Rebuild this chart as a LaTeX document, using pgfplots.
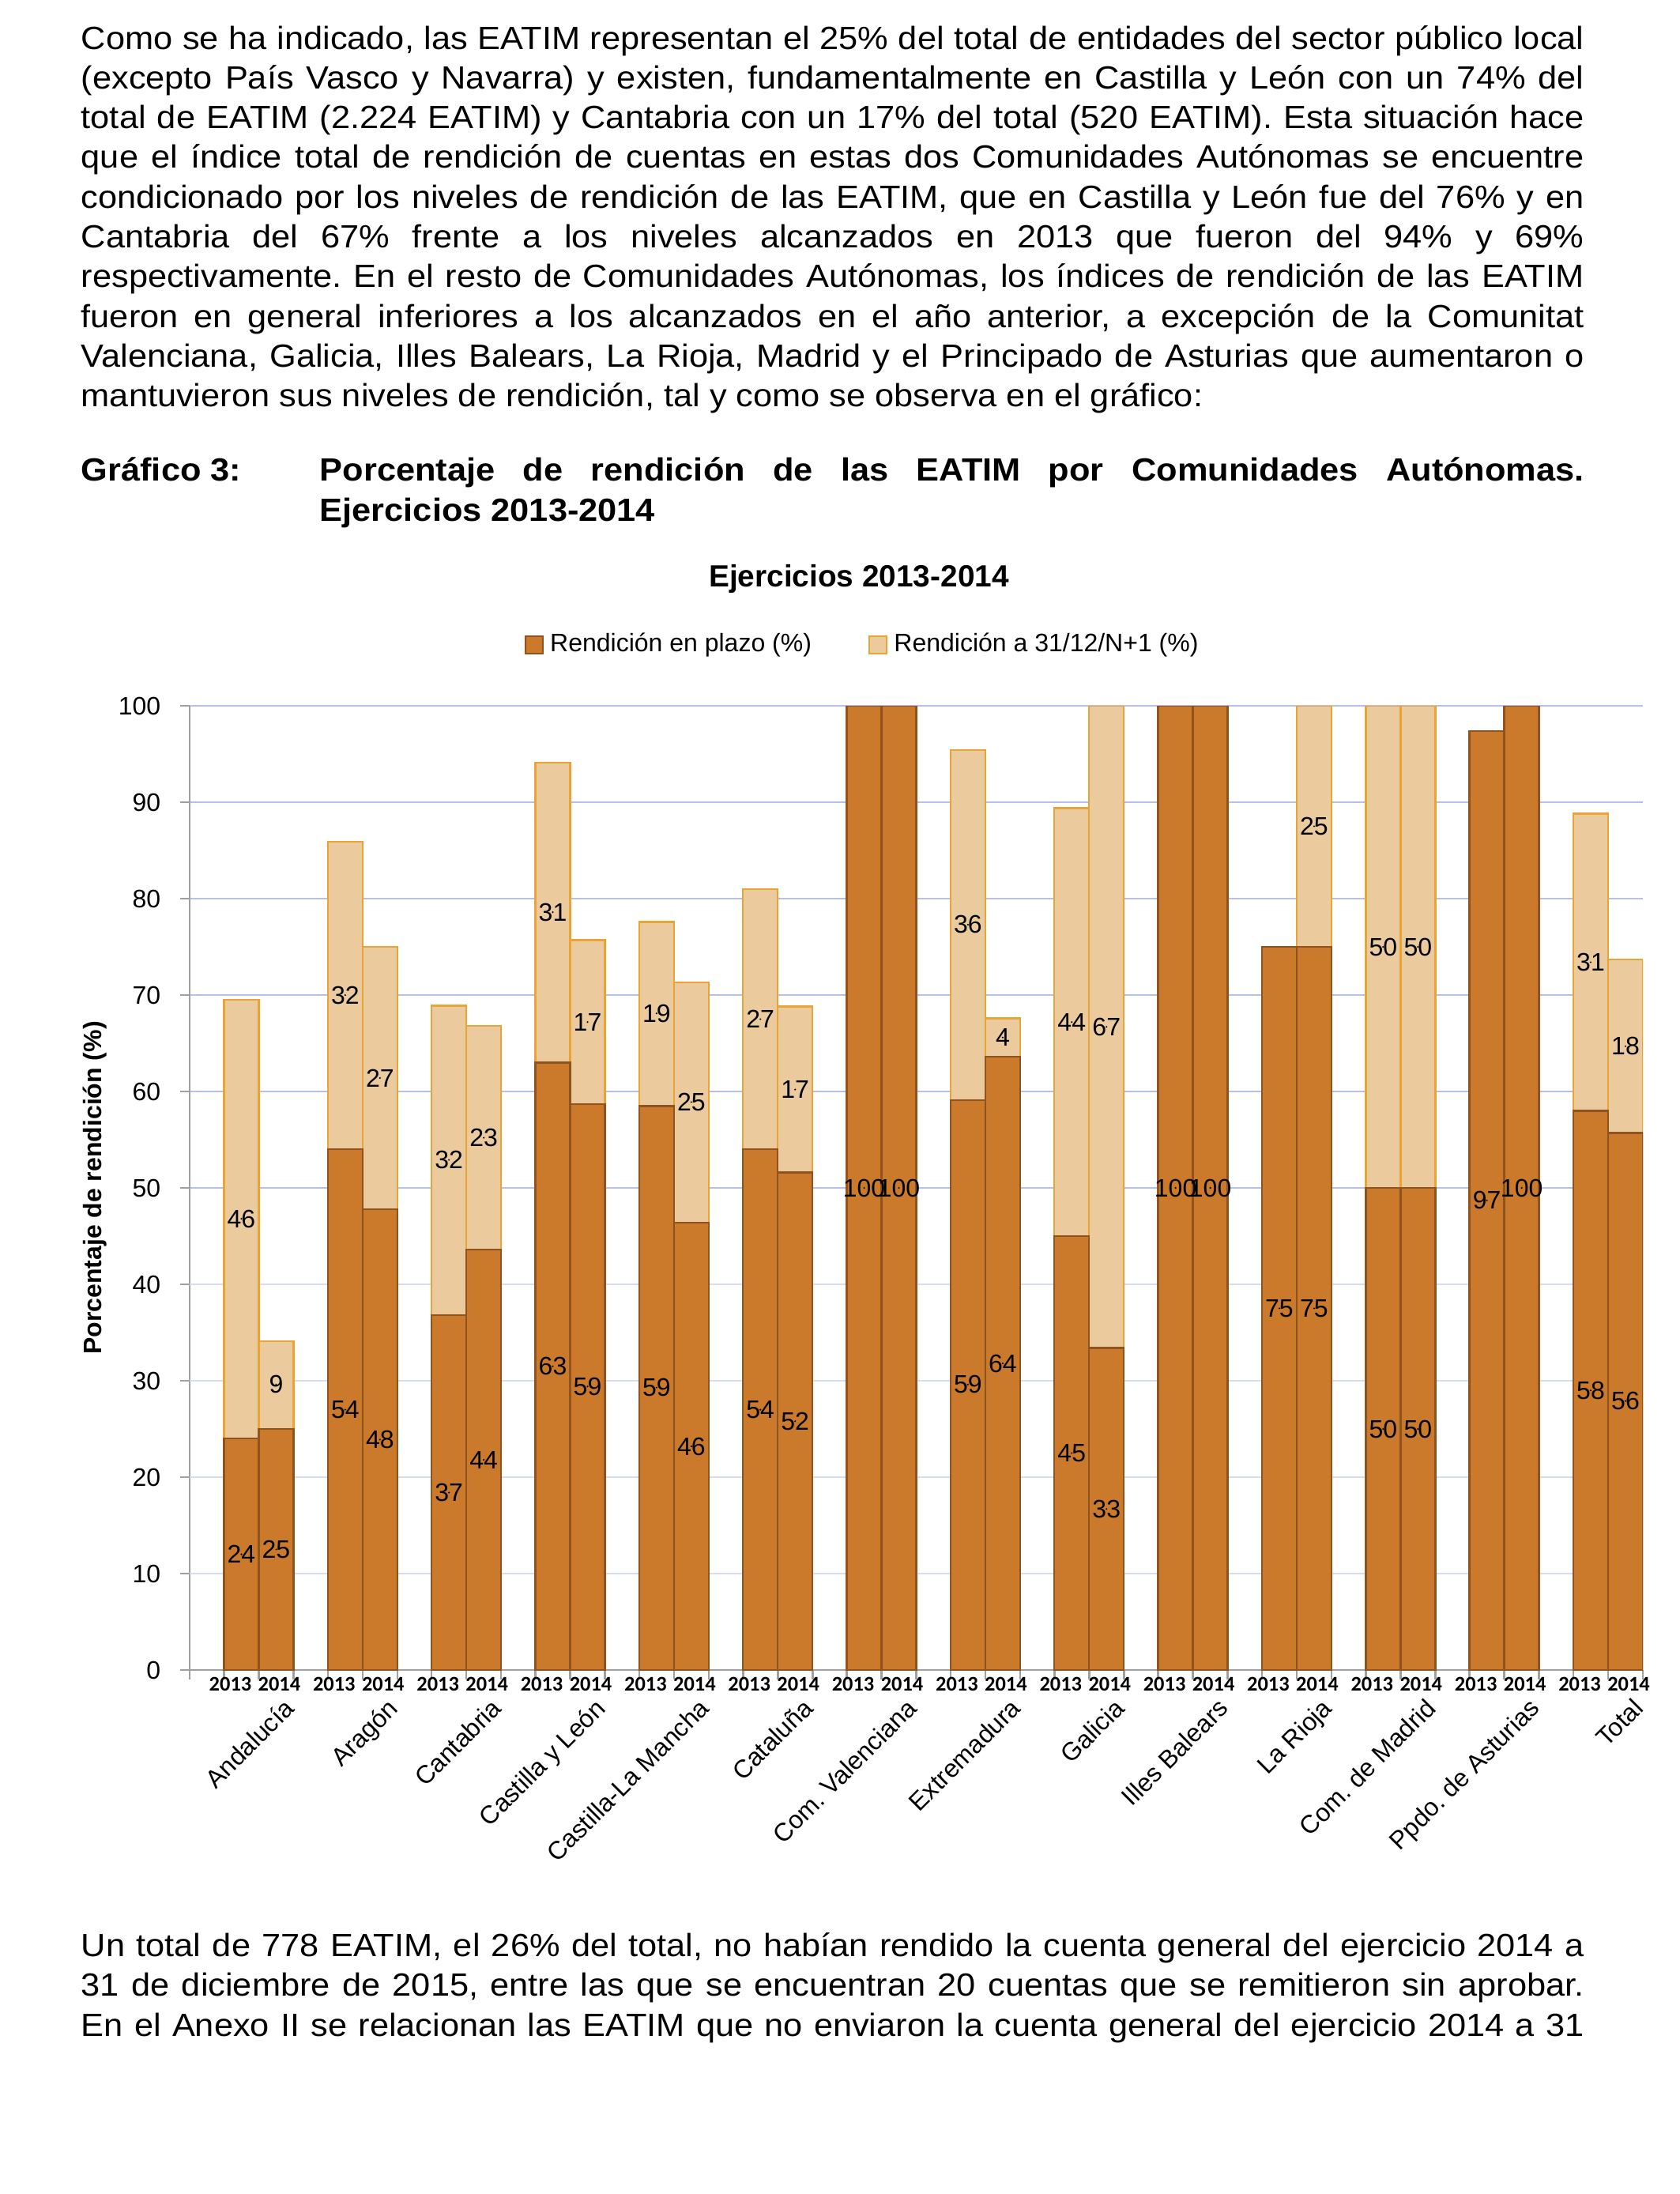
\documentclass[border=0pt]{standalone}
\usepackage{fontspec}
\setmainfont{Liberation Sans}
\newfontfamily\bodyfont[FakeStretch=1.068]{Liberation Sans}
\newfontfamily\yearfont{Carlito}
\usepackage{pgfplots}
\usepackage{pgfplotstable}
\pgfplotsset{compat=1.18}
\frenchspacing

\definecolor{cDark}{HTML}{CB7A2C}
\definecolor{cDarkEdge}{HTML}{8E531E}
\definecolor{cLight}{HTML}{EBCA9E}
\definecolor{cLightEdge}{HTML}{E8A435}
\definecolor{cGrid}{HTML}{B7C0E8}
\definecolor{cGridLight}{HTML}{D6DBF1}
\definecolor{cAxis}{HTML}{A0A0A0}

\newcommand{\bodysize}{\fontsize{10.15}{12}\selectfont}
\newcommand{\chartsize}{\fontsize{8}{9.6}\selectfont}
% justified line / last line of a paragraph
\newcommand{\jline}[3][25.5]{\node[anchor=base west, inner sep=0pt] at (#1pt,-#2pt) {\bodyfont\bodysize\makebox[475.5pt][s]{#3}};}
\newcommand{\pline}[3][25.5]{\node[anchor=base west, inner sep=0pt] at (#1pt,-#2pt) {\bodyfont\bodysize #3};}

% x = bar centre, b = rendicion en plazo, t = total a 31/12/N+1
\pgfplotstableread{
x b t
-0.1675 24.0 69.5
0.1675 25.0 34.1
0.8325 54.0 85.9
1.1675 47.8 75.0
1.8325 36.8 68.9
2.1675 43.6 66.8
2.8325 63.0 94.1
3.1675 58.7 75.7
3.8325 58.5 77.6
4.1675 46.4 71.3
4.8325 54.0 81.0
5.1675 51.6 68.8
5.8325 100 100
6.1675 100 100
6.8325 59.1 95.4
7.1675 63.6 67.6
7.8325 45.0 89.4
8.1675 33.4 100
8.8325 100 100
9.1675 100 100
9.8325 75.0 75.0
10.1675 75.0 100
10.8325 50.0 100
11.1675 50.0 100
11.8325 97.4 97.4
12.1675 100 100
12.8325 58.0 88.8
13.1675 55.7 73.7
}\bars

\pgfplotstableread{
x y label
-0.1675 12.0 24
-0.1675 46.8 46
0.1675 12.5 25
0.1675 29.6 9
0.8325 27.0 54
0.8325 70.0 32
1.1675 23.9 48
1.1675 61.4 27
1.8325 18.4 37
1.8325 52.9 32
2.1675 21.8 44
2.1675 55.2 23
2.8325 31.5 63
2.8325 78.6 31
3.1675 29.4 59
3.1675 67.2 17
3.8325 29.3 59
3.8325 68.1 19
4.1675 23.2 46
4.1675 58.9 25
4.8325 27.0 54
4.8325 67.5 27
5.1675 25.8 52
5.1675 60.2 17
5.8325 50 100
6.1675 50 100
6.8325 29.6 59
6.8325 77.3 36
7.1675 31.8 64
7.1675 65.6 4
7.8325 22.5 45
7.8325 67.2 44
8.1675 16.7 33
8.1675 66.7 67
8.8325 50 100
9.1675 50 100
9.8325 37.5 75
10.1675 37.5 75
10.1675 87.5 25
10.8325 25 50
10.8325 75 50
11.1675 25 50
11.1675 75 50
11.8325 48.7 97
12.1675 50 100
12.8325 29.0 58
12.8325 73.4 31
13.1675 27.9 56
13.1675 64.7 18
}\labels

\pgfplotsset{
  chartframe/.style={
    at={(60pt,-528.25pt)}, anchor=south west,
    width=459.75pt, height=305pt, scale only axis,
    xmin=-0.666, xmax=13.335, ymin=0, ymax=100,
  },
}

\begin{document}
\begin{tikzpicture}
\path[fill=white] (0,0) rectangle (531.5pt,-694pt);

% texto
\jline{15.5}{Como se ha indicado, las EATIM representan el 25\% del total de entidades del sector público local}
\jline{28.075}{(excepto País Vasco y Navarra) y existen, fundamentalmente en Castilla y León con un 74\% del}
\jline{40.65}{total de EATIM (2.224 EATIM) y Cantabria con un 17\% del total (520 EATIM). Esta situación hace}
\jline{53.225}{que el índice total de rendición de cuentas en estas dos Comunidades Autónomas se encuentre}
\jline{65.8}{condicionado por los niveles de rendición de las EATIM, que en Castilla y León fue del 76\% y en}
\jline{78.375}{Cantabria del 67\% frente a los niveles alcanzados en 2013 que fueron del 94\% y 69\%}
\jline{90.95}{respectivamente. En el resto de Comunidades Autónomas, los índices de rendición de las EATIM}
\jline{103.525}{fueron en general inferiores a los alcanzados en el año anterior, a excepción de la Comunitat}
\jline{116.1}{Valenciana, Galicia, Illes Balears, La Rioja, Madrid y el Principado de Asturias que aumentaron o}
\pline{128.675}{mantuvieron sus niveles de rendición, tal y como se observa en el gráfico:}

\pline{152}{\bfseries Gráfico 3:}
\node[anchor=base west, inner sep=0pt] at (101pt,-152pt) {\bodyfont\bodysize\bfseries\makebox[400pt][s]{Porcentaje de rendición de las EATIM por Comunidades Autónomas.}};
\pline[101]{164.75}{\bfseries Ejercicios 2013-2014}

\jline{618.75}{Un total de 778 EATIM, el 26\% del total, no habían rendido la cuenta general del ejercicio 2014 a}
\jline{631.4}{31 de diciembre de 2015, entre las que se encuentran 20 cuentas que se remitieron sin aprobar.}
\jline{644}{En el Anexo II se relacionan las EATIM que no enviaron la cuenta general del ejercicio 2014 a 31}

% titulo del grafico
\node[anchor=base, inner sep=0pt, font=\bfseries\fontsize{9.7}{11}\selectfont] at (271.75pt,-185.5pt) {Ejercicios 2013-2014};

\begin{axis}[
    chartframe,
    ybar,
    axis x line*=bottom, axis y line*=left,
    axis line style={-, cAxis, line width=0.65pt},
    tick style={cAxis, line width=0.65pt},
    major tick length=3pt,
    tick align=outside,
    xtick={-0.666,-0.335,0,0.335,0.665,1,1.335,1.665,2,2.335,2.665,3,3.335,3.665,4,4.335,4.665,5,5.335,5.665,6,6.335,6.665,7,7.335,7.665,8,8.335,8.665,9,9.335,9.665,10,10.335,10.665,11,11.335,11.665,12,12.335,12.665,13,13.335},
    xticklabels={},
    extra x ticks={0,1,2,3,4,5,6,7,8,9,10,11,12,13},
    extra x tick labels={Andalucía,Aragón,Cantabria,Castilla y León,Castilla-La Mancha,Cataluña,Com. Valenciana,Extremadura,Galicia,Illes Balears,La Rioja,Com. de Madrid,Ppdo. de Asturias,Total},
    extra x tick style={major tick length=0pt,
      tick label style={font=\chartsize, inner sep=0pt, xshift=7.5pt, yshift=-8.25pt, rotate=45, anchor=north east}},
    ytick={0,50,60,70,80,90,100},
    extra y ticks={10,20,30,40},
    extra y tick style={grid=major, major grid style={cGridLight, line width=0.65pt}},
    /pgf/number format/assume math mode=true,
    yticklabel style={font=\chartsize, inner sep=0pt, anchor=east, xshift=-6pt},
    ymajorgrids,
    major grid style={cGrid, line width=0.65pt},
    ylabel={Porcentaje de rendición (\%)},
    ylabel style={font=\bfseries\chartsize, at={(axis description cs:-0.0653,0.5)}, anchor=center},
    legend columns=2,
    legend style={draw=none, fill=none, font=\chartsize,
      at={(axis description cs:0.4645,1.0631)}, anchor=center,
      /tikz/every even column/.append style={column sep=16pt}},
  ]
  \addplot[bar width=0.335, bar shift=0pt, fill=cLight, draw=cLightEdge, line width=0.6pt, forget plot]
    table[x=x, y=t] {\bars};
  \addplot[bar width=0.335, bar shift=0pt, fill=cDark, draw=cDarkEdge, line width=0.6pt, forget plot]
    table[x=x, y=b] {\bars};
  \addlegendimage{legend image code/.code={\draw[fill=cDark, draw=cDarkEdge, line width=0.6pt] (0pt,-2.75pt) rectangle (5.5pt,2.75pt);}}
  \addlegendentry{Rendición en plazo (\%)}
  \addlegendimage{legend image code/.code={\draw[fill=cLight, draw=cLightEdge, line width=0.6pt] (0pt,-2.75pt) rectangle (5.5pt,2.75pt);}}
  \addlegendentry{Rendición a 31/12/N+1 (\%)}
\end{axis}

% etiquetas de datos y anos
\begin{axis}[
    chartframe,
    clip=false,
    axis line style={draw=none},
    major tick length=0pt,
    ytick=\empty,
    xtick={-0.274,0.198,0.726,1.198,1.726,2.198,2.726,3.198,3.726,4.198,4.726,5.198,5.726,6.198,6.726,7.198,7.726,8.198,8.726,9.198,9.726,10.198,10.726,11.198,11.726,12.198,12.726,13.198},
    xticklabels={2013,2014,2013,2014,2013,2014,2013,2014,2013,2014,2013,2014,2013,2014,2013,2014,2013,2014,2013,2014,2013,2014,2013,2014,2013,2014,2013,2014},
    xticklabel style={font=\yearfont\bfseries\fontsize{6.6}{8}\selectfont, inner sep=0pt, anchor=north, yshift=-2pt},
  ]
  \addplot[only marks, mark=*, mark size=0.01pt, mark options={draw=none, fill=none},
    point meta=explicit symbolic, nodes near coords,
    nodes near coords style={anchor=center, inner sep=0pt, font=\chartsize, text=black}]
    table[x=x, y=y, meta=label] {\labels};
\end{axis}
\end{tikzpicture}
\end{document}
